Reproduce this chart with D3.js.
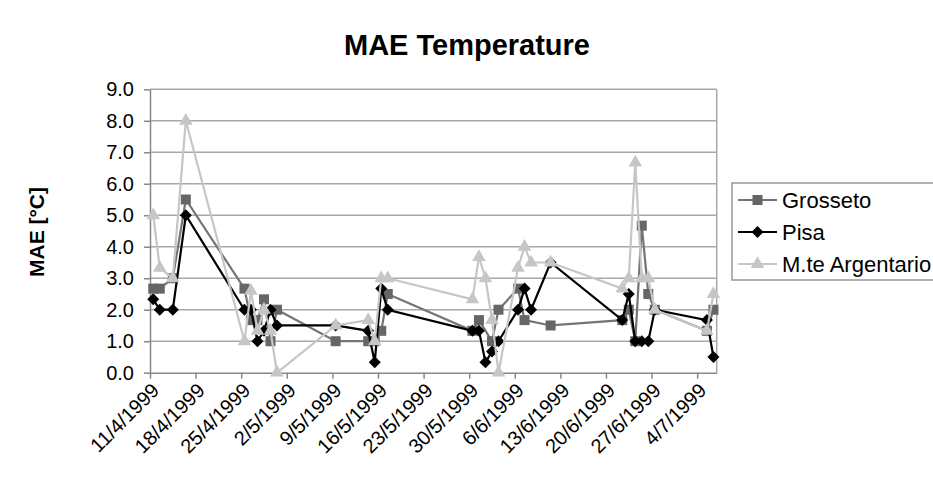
<!DOCTYPE html>
<html>
<head>
<meta charset="utf-8">
<script src="https://cdn.jsdelivr.net/npm/d3@7"></script>
<style>
  body { margin: 0; background: #fff; }
  text { font-family: "Liberation Sans", Arial, sans-serif; fill: #000; }
</style>
</head>
<body>
<div id="chart"></div>
<script>
// dates are day/month of 1999
const dates = ["11/4", "12/4", "14/4", "16/4", "25/4", "26/4", "27/4", "28/4", "29/4", "30/4",
               "9/5", "14/5", "15/5", "16/5", "17/5", "30/5", "31/5", "1/6", "2/6", "3/6",
               "6/6", "7/6", "8/6", "11/6", "22/6", "23/6", "24/6", "25/6", "26/6", "27/6",
               "5/7", "6/7"];

const grosseto = [2.67, 2.67, 3.0, 5.5, 2.67, 1.67, 1.67, 2.33, 1.0, 2.0,
                  1.0, 1.0, 1.0, 1.33, 2.5, 1.33, 1.67, null, 1.0, 2.0,
                  2.67, 1.67, null, 1.5, 1.67, 2.0, 1.0, 4.67, 2.5, 2.0,
                  1.33, 2.0];
const pisa = [2.33, 2.0, 2.0, 5.0, 2.0, 2.0, 1.0, 1.33, 2.0, 1.5,
              1.5, 1.33, 0.33, 2.67, 2.0, 1.33, 1.33, 0.33, 0.67, 1.0,
              2.0, 2.67, 2.0, 3.5, 1.67, 2.5, 1.0, 1.0, 1.0, 2.0,
              1.67, 0.5];
const argentario = [5.0, 3.33, 3.0, 8.0, 1.0, 2.6, 1.33, 2.0, 1.33, 0.0,
                    1.5, 1.67, 1.0, 3.0, 3.0, 2.33, 3.67, 3.0, 1.67, 0.0,
                    3.33, 4.0, 3.5, 3.5, 2.67, 3.0, 6.67, 3.0, 3.0, 2.0,
                    1.33, 2.5];

const xTickLabels = ["11/4/1999", "18/4/1999", "25/4/1999", "2/5/1999", "9/5/1999", "16/5/1999",
                     "23/5/1999", "30/5/1999", "6/6/1999", "13/6/1999", "20/6/1999", "27/6/1999",
                     "4/7/1999"];
const yTicks = [0, 1, 2, 3, 4, 5, 6, 7, 8, 9];

const parseDay = s => {
    const [d, m] = s.split("/").map(Number);
    return new Date(Date.UTC(1999, m - 1, d));
};

// Excel style diamond: a square turned by 45 degrees
const symbolRhomb = {
    draw(context, size) {
        const r = Math.sqrt(size / 2);
        context.moveTo(0, -r);
        context.lineTo(r, 0);
        context.lineTo(0, r);
        context.lineTo(-r, 0);
        context.closePath();
    }
};

const series = [
    {name: "Grosseto", values: grosseto, color: "#747474", fill: "#666666", symbol: d3.symbolSquare, size: 100},
    {name: "Pisa", values: pisa, color: "#000000", fill: "#000000", symbol: symbolRhomb, size: 72},
    {name: "M.te Argentario", values: argentario, color: "#c6c6c6", fill: "#c6c6c6", symbol: d3.symbolTriangle, size: 80}
];

const W = 933, H = 481;
const plotLeft = 150, plotRight = 716.7, plotTop = 89.3, plotBottom = 372.7;

const svg = d3.select("#chart")
              .append("svg")
              .attr("width", W)
              .attr("height", H);

const x = d3.scaleUtc()
            .domain([new Date(Date.UTC(1999, 3, 11)), new Date(Date.UTC(1999, 6, 7))])
            .range([plotLeft, plotRight]);

const y = d3.scaleLinear()
            .domain([0, 9])
            .range([plotBottom, plotTop]);

// points sit in the middle of their day
const xPos = s => x(d3.utcHour.offset(parseDay(s), 12));

// title
svg.append("text")
   .attr("x", 467)
   .attr("y", 55)
   .attr("text-anchor", "middle")
   .attr("font-size", 29)
   .attr("font-weight", "bold")
   .text("MAE Temperature");

// y axis label
svg.append("text")
   .attr("transform", "translate(44,232) rotate(-90)")
   .attr("text-anchor", "middle")
   .attr("font-size", 21)
   .attr("font-weight", "bold")
   .text("MAE [°C]");

// gridlines
svg.append("g")
   .selectAll("line")
   .data(yTicks.slice(1))
   .enter()
   .append("line")
   .attr("x1", plotLeft)
   .attr("x2", plotRight)
   .attr("y1", d => y(d))
   .attr("y2", d => y(d))
   .attr("stroke", "#a8a8a8")
   .attr("stroke-width", 1.5);

// right border of plot area
svg.append("line")
   .attr("x1", plotRight).attr("x2", plotRight)
   .attr("y1", plotTop).attr("y2", plotBottom)
   .attr("stroke", "#a8a8a8")
   .attr("stroke-width", 1.5);

// y axis
const yAxis = svg.append("g")
   .attr("transform", `translate(${plotLeft},0)`)
   .call(d3.axisLeft(y).tickValues(yTicks).tickFormat(d3.format(".1f")).tickSize(6).tickSizeOuter(0));
yAxis.select(".domain").attr("stroke", "#888").attr("stroke-width", 1.5);
yAxis.selectAll(".tick line").attr("stroke", "#888").attr("stroke-width", 1.5);
yAxis.selectAll("text")
     .attr("font-size", 20)
     .attr("font-family", "Liberation Sans, Arial, sans-serif")
     .attr("x", -16);

// x axis
const xTickDates = xTickLabels.map(s => parseDay(s.slice(0, s.lastIndexOf("/"))));
const xAxis = svg.append("g")
   .attr("transform", `translate(0,${plotBottom})`)
   .call(d3.axisBottom(x).tickValues(xTickDates).tickFormat((d, i) => xTickLabels[i]).tickSize(6).tickSizeOuter(0));
xAxis.select(".domain").attr("stroke", "#888").attr("stroke-width", 1.5);
xAxis.selectAll(".tick line").attr("stroke", "#888").attr("stroke-width", 1.5);
xAxis.selectAll("text")
     .attr("font-size", 20)
     .attr("font-family", "Liberation Sans, Arial, sans-serif")
     .attr("text-anchor", "end")
     .attr("x", 0)
     .attr("y", 0)
     .attr("dy", "0.35em")
     .attr("transform", "translate(5,14) rotate(-45)");

// lines and markers
const line = d3.line()
               .x(d => xPos(d.date))
               .y(d => y(d.value));

series.forEach(s => {
    const pts = dates.map((d, i) => ({date: d, value: s.values[i]}))
                     .filter(d => d.value !== null);

    svg.append("path")
       .datum(pts)
       .attr("fill", "none")
       .attr("stroke", s.color)
       .attr("stroke-width", 2.2)
       .attr("d", line);

    svg.append("g")
       .selectAll("path")
       .data(pts)
       .enter()
       .append("path")
       .attr("transform", d => `translate(${xPos(d.date)},${y(d.value)})`)
       .attr("d", d3.symbol().type(s.symbol).size(s.size))
       .attr("fill", s.fill);
});

// legend
const legend = svg.append("g");
legend.append("rect")
      .attr("x", 732)
      .attr("y", 183)
      .attr("width", 240)
      .attr("height", 97)
      .attr("fill", "#fff")
      .attr("stroke", "#999")
      .attr("stroke-width", 1.5);

series.forEach((s, i) => {
    const cy = 200 + i * 32;
    legend.append("line")
          .attr("x1", 738).attr("x2", 777)
          .attr("y1", cy).attr("y2", cy)
          .attr("stroke", s.color)
          .attr("stroke-width", 2.2);
    legend.append("path")
          .attr("transform", `translate(757.5,${cy})`)
          .attr("d", d3.symbol().type(s.symbol).size(s.size))
          .attr("fill", s.fill);
    legend.append("text")
          .attr("x", 782)
          .attr("y", cy)
          .attr("dy", "0.35em")
          .attr("font-size", 22)
          .text(s.name);
});
</script>
</body>
</html>
